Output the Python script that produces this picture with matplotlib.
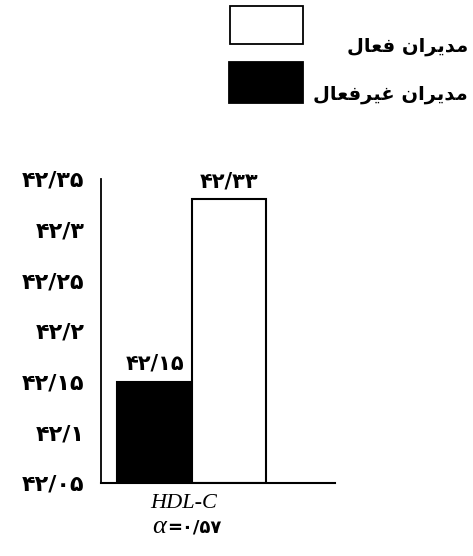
import matplotlib
matplotlib.use("Agg")
import matplotlib.pyplot as plt
from matplotlib.patches import Rectangle

# ---- data ----
groups = ["inactive", "active"]          # مدیران غیرفعال / مدیران فعال
values = [42.15, 42.33]
value_labels = ["۴۲/۱۵", "۴۲/۳۳"]
bar_colors = ["black", "white"]
yticks = [42.05, 42.10, 42.15, 42.20, 42.25, 42.30, 42.35]
ytick_labels = ["۴۲/۰۵", "۴۲/۱", "۴۲/۱۵", "۴۲/۲", "۴۲/۲۵", "۴۲/۳", "۴۲/۳۵"]
xlabel_line1 = "HDL-C"
alpha_symbol = "α"
alpha_value = "=۰/۵۷"

# Persian legend labels, logical order (shaped manually below, since
# matplotlib does no Arabic contextual shaping)
legend_active = "مدیران فعال"
legend_inactive = "مدیران غیرفعال"

# presentation forms: letter -> (isolated, final, initial, medial)
FORMS = {
    "م": ("\uFEE1", "\uFEE2", "\uFEE3", "\uFEE4"),
    "د": ("\uFEA9", "\uFEAA", None, None),
    "ی": ("\uFBFC", "\uFBFD", "\uFEF3", "\uFEF4"),
    "ر": ("\uFEAD", "\uFEAE", None, None),
    "ا": ("\uFE8D", "\uFE8E", None, None),
    "ن": ("\uFEE5", "\uFEE6", "\uFEE7", "\uFEE8"),
    "ف": ("\uFED1", "\uFED2", "\uFED3", "\uFED4"),
    "ع": ("\uFEC9", "\uFECA", "\uFECB", "\uFECC"),
    "غ": ("\uFECD", "\uFECE", "\uFECF", "\uFED0"),
    "ل": ("\uFEDD", "\uFEDE", "\uFEDF", "\uFEE0"),
}


def shape(text):
    out = []
    n = len(text)
    for i, ch in enumerate(text):
        if ch not in FORMS:
            out.append(ch)
            continue
        prev = text[i - 1] if i > 0 else None
        nxt = text[i + 1] if i < n - 1 else None
        prev_joins = prev in FORMS and FORMS[prev][2] is not None
        next_ok = nxt in FORMS and FORMS[ch][2] is not None
        iso, fin, ini, med = FORMS[ch]
        if prev_joins and next_ok:
            out.append(med)
        elif prev_joins:
            out.append(fin)
        elif next_ok:
            out.append(ini)
        else:
            out.append(iso)
    return "".join(reversed(out))


W, H = 473, 556
fig = plt.figure(figsize=(W / 100, H / 100), dpi=100)
ax = fig.add_axes([101 / W, 73 / H, 234 / W, 304 / H])

x = list(range(len(values)))
base = yticks[0]
ax.bar(x, [v - base for v in values], bottom=base, width=1.0,
       color=bar_colors, edgecolor="black", linewidth=1.5, align="center")
for xi, v, lab in zip(x, values, value_labels):
    ax.text(xi, v + 0.008, lab, ha="center", va="bottom",
            fontsize=15, fontweight="bold", family=["DejaVu Sans"])

ax.set_xlim(-0.72, 2.42)
ax.set_ylim(42.05, 42.35)
ax.set_yticks(yticks)
ax.set_yticklabels(ytick_labels, fontsize=16, fontweight="bold",
                   family=["DejaVu Sans"])
ax.set_xticks([])
ax.tick_params(axis="y", length=0, pad=12)
for s in ["top", "right"]:
    ax.spines[s].set_visible(False)
ax.spines["left"].set_linewidth(1.3)
ax.spines["bottom"].set_linewidth(1.5)

# x labels
fig.text(184 / W, 1 - 503 / H, xlabel_line1, ha="center", va="center",
         fontsize=16, style="italic", family=["Liberation Serif"])
fig.text(166 / W, 1 - 527 / H, alpha_symbol, ha="right", va="center",
         fontsize=19, style="italic", family=["Liberation Serif"])
fig.text(167 / W, 1 - 527 / H, alpha_value, ha="left", va="center",
         fontsize=13, fontweight="bold", family=["DejaVu Sans"])

# legend
fig.patches.append(Rectangle((230 / W, 1 - 44 / H), 73 / W, 38 / H,
                             transform=fig.transFigure, facecolor="white",
                             edgecolor="black", linewidth=1.3))
fig.patches.append(Rectangle((229 / W, 1 - 103 / H), 74 / W, 41 / H,
                             transform=fig.transFigure, facecolor="black",
                             edgecolor="black", linewidth=1.3))
fig.text(468 / W, 1 - 46 / H, shape(legend_active), ha="right", va="center",
         fontsize=14, fontweight="bold", family=["DejaVu Sans"])
fig.text(468 / W, 1 - 95 / H, shape(legend_inactive), ha="right", va="center",
         fontsize=14, fontweight="bold", family=["DejaVu Sans"])

fig.savefig("out.png", dpi=100, facecolor="white")
